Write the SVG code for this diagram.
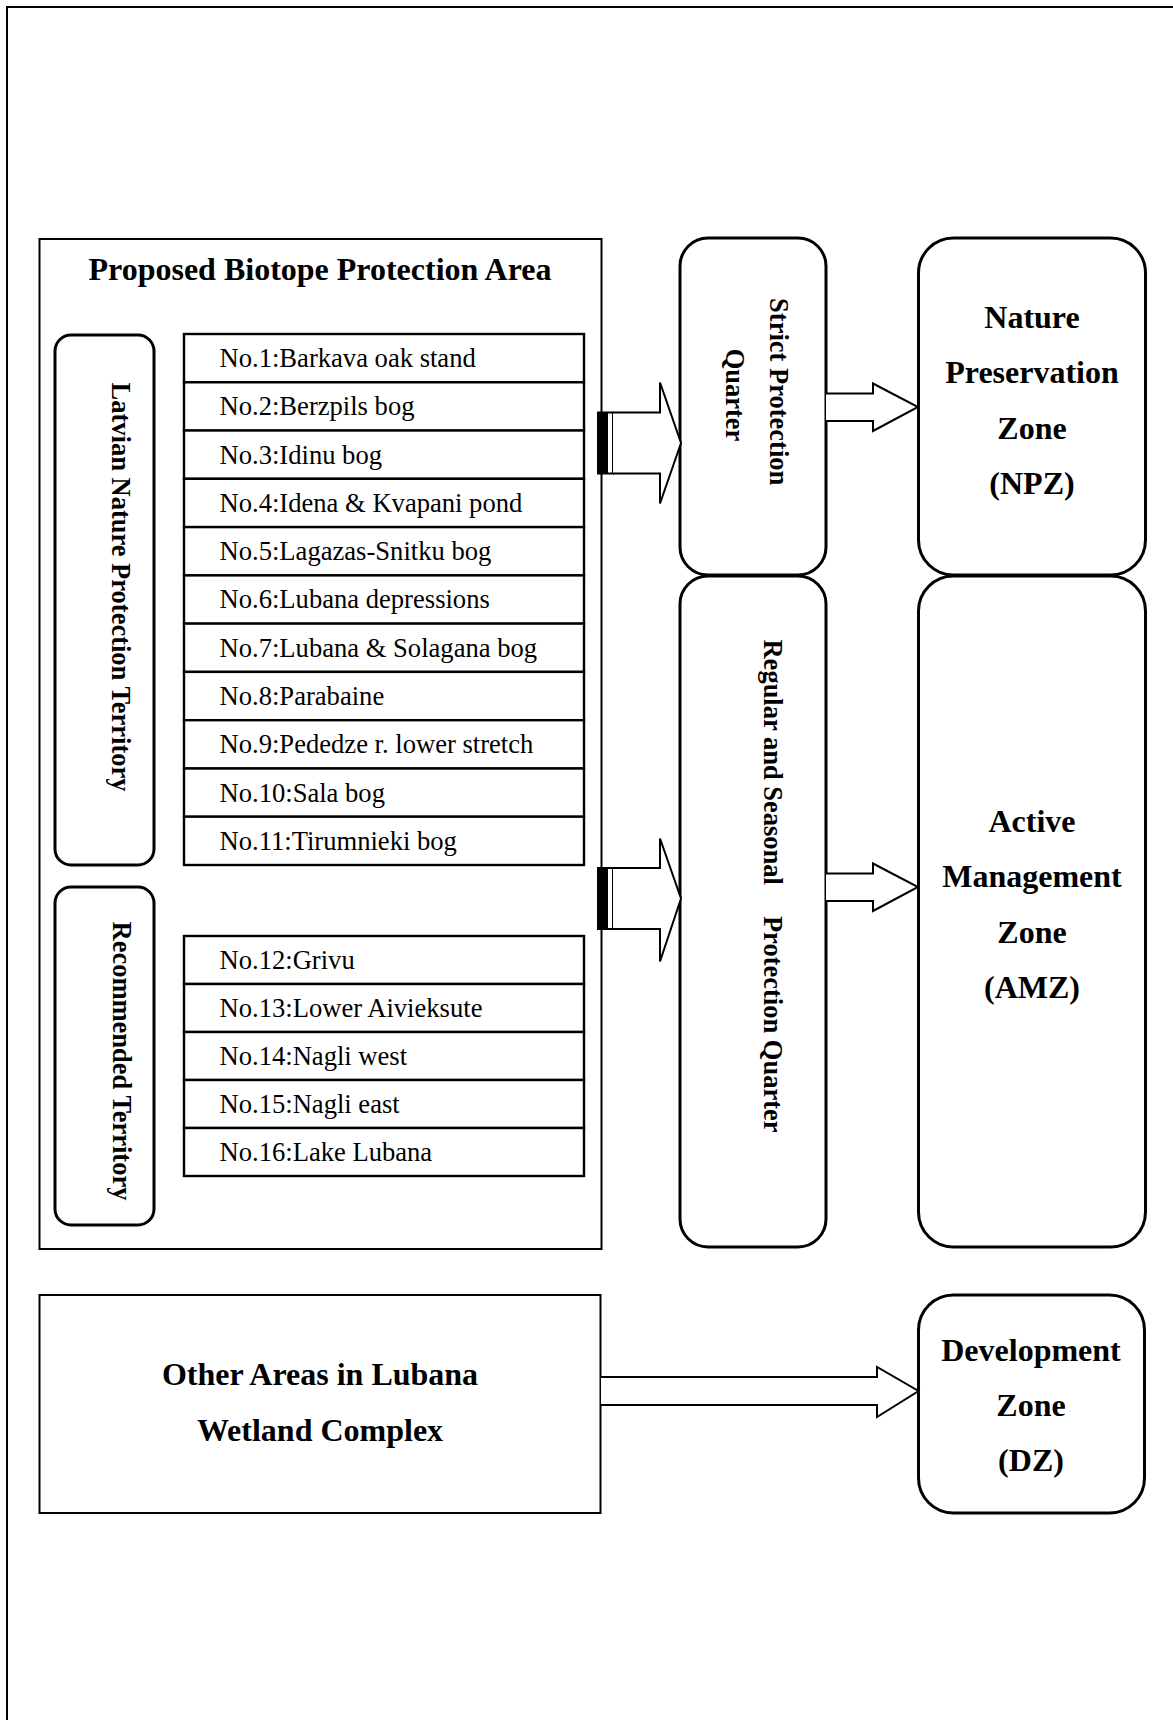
<svg xmlns="http://www.w3.org/2000/svg" width="1173" height="1720" viewBox="0 0 1173 1720">
  <style>
    .frame { fill: none; stroke: #000; stroke-width: 2; }
    .box { fill: #fff; stroke: #000; stroke-width: 2; }
    .row { fill: #fff; stroke: #000; stroke-width: 2.4; }
    .pill { fill: #fff; stroke: #000; stroke-width: 3; }
    .arrow { fill: #fff; stroke: #000; stroke-width: 2; stroke-linejoin: miter; }
    text { font-family: "Liberation Serif", "Times New Roman", serif; fill: #000; }
    .title { font-size: 32px; font-weight: bold; text-anchor: middle; }
    .item { font-size: 26.6px; }
    .vert { font-size: 26.5px; font-weight: bold; text-anchor: middle; }
    .zone { font-size: 32px; font-weight: bold; text-anchor: middle; }
  </style>

  <!-- page frame (top and left edges) -->
  <path class="frame" d="M7,1720 V7 H1173"/>

  <!-- biotope protection area container -->
  <g id="biotope-area">
    <rect class="box" x="39.5" y="239" width="562" height="1010"/>
    <text class="title" x="320" y="280">Proposed Biotope Protection Area</text>
  </g>

  <g id="latvian-territory">
    <rect class="pill" x="55" y="335" width="99" height="530" rx="16" ry="16"/>
    <text class="vert" transform="translate(112,587) rotate(90)">Latvian Nature Protection Territory</text>
  </g>

  <g id="recommended-territory">
    <rect class="pill" x="55" y="887" width="99" height="338" rx="16" ry="16"/>
    <text class="vert" transform="translate(113,1061) rotate(90)">Recommended Territory</text>
  </g>

  <!-- site list, Latvian territory -->
  <g id="sites-latvian">
    <g id="site-1"><rect class="row" x="184" y="334" width="400" height="48.3"/><text class="item" x="219.5" y="367">No.1:Barkava oak stand</text></g>
    <g id="site-2"><rect class="row" x="184" y="382.3" width="400" height="48.3"/><text class="item" x="219.5" y="415.3">No.2:Berzpils bog</text></g>
    <g id="site-3"><rect class="row" x="184" y="430.5" width="400" height="48.3"/><text class="item" x="219.5" y="463.5">No.3:Idinu bog</text></g>
    <g id="site-4"><rect class="row" x="184" y="478.8" width="400" height="48.3"/><text class="item" x="219.5" y="511.8">No.4:Idena &amp; Kvapani pond</text></g>
    <g id="site-5"><rect class="row" x="184" y="527.1" width="400" height="48.3"/><text class="item" x="219.5" y="560.1">No.5:Lagazas-Snitku bog</text></g>
    <g id="site-6"><rect class="row" x="184" y="575.4" width="400" height="48.3"/><text class="item" x="219.5" y="608.4">No.6:Lubana depressions</text></g>
    <g id="site-7"><rect class="row" x="184" y="623.6" width="400" height="48.3"/><text class="item" x="219.5" y="656.6">No.7:Lubana &amp; Solagana bog</text></g>
    <g id="site-8"><rect class="row" x="184" y="671.9" width="400" height="48.3"/><text class="item" x="219.5" y="704.9">No.8:Parabaine</text></g>
    <g id="site-9"><rect class="row" x="184" y="720.2" width="400" height="48.3"/><text class="item" x="219.5" y="753.2">No.9:Pededze r. lower stretch</text></g>
    <g id="site-10"><rect class="row" x="184" y="768.5" width="400" height="48.3"/><text class="item" x="219.5" y="801.5">No.10:Sala bog</text></g>
    <g id="site-11"><rect class="row" x="184" y="816.7" width="400" height="48.3"/><text class="item" x="219.5" y="849.7">No.11:Tirumnieki bog</text></g>
  </g>

  <!-- site list, recommended territory -->
  <g id="sites-recommended">
    <g id="site-12"><rect class="row" x="184" y="936" width="400" height="48"/><text class="item" x="219.5" y="969">No.12:Grivu</text></g>
    <g id="site-13"><rect class="row" x="184" y="984" width="400" height="48"/><text class="item" x="219.5" y="1017">No.13:Lower Aivieksute</text></g>
    <g id="site-14"><rect class="row" x="184" y="1032" width="400" height="48"/><text class="item" x="219.5" y="1065">No.14:Nagli west</text></g>
    <g id="site-15"><rect class="row" x="184" y="1080" width="400" height="48"/><text class="item" x="219.5" y="1113">No.15:Nagli east</text></g>
    <g id="site-16"><rect class="row" x="184" y="1128" width="400" height="48"/><text class="item" x="219.5" y="1161">No.16:Lake Lubana</text></g>
  </g>

  <!-- protection quarters -->
  <g id="strict-quarter">
    <rect class="pill" x="680" y="238" width="146" height="337" rx="28" ry="28"/>
    <text class="vert" transform="translate(769.5,395) rotate(90)">
      <tspan x="0" y="0">Strict Protection</tspan>
      <tspan x="0" y="44">Quarter</tspan>
    </text>
  </g>

  <g id="regular-quarter">
    <rect class="pill" x="680" y="576" width="146" height="671" rx="28" ry="28"/>
    <text class="vert" transform="translate(764,886) rotate(90)">Regular and Seasonal<tspan dx="31">Protection Quarter</tspan></text>
  </g>

  <!-- management zones -->
  <g id="npz">
    <rect class="pill" x="918.5" y="238" width="227" height="337" rx="35" ry="35"/>
    <text class="zone" x="1032" y="327.5">Nature</text>
    <text class="zone" x="1032" y="383">Preservation</text>
    <text class="zone" x="1032" y="438.5">Zone</text>
    <text class="zone" x="1032" y="494">(NPZ)</text>
  </g>

  <g id="amz">
    <rect class="pill" x="918.5" y="576" width="227" height="671" rx="35" ry="35"/>
    <text class="zone" x="1032" y="831.5">Active</text>
    <text class="zone" x="1032" y="887">Management</text>
    <text class="zone" x="1032" y="942.5">Zone</text>
    <text class="zone" x="1032" y="998">(AMZ)</text>
  </g>

  <g id="other-areas">
    <rect class="box" x="39.5" y="1295" width="561" height="218"/>
    <text class="title" x="320" y="1385">Other Areas in Lubana</text>
    <text class="title" x="320" y="1440.5">Wetland Complex</text>
  </g>

  <g id="dz">
    <rect class="pill" x="918.5" y="1295" width="226" height="218" rx="35" ry="35"/>
    <text class="zone" x="1031" y="1361">Development</text>
    <text class="zone" x="1031" y="1416">Zone</text>
    <text class="zone" x="1031" y="1471">(DZ)</text>
  </g>

  <!-- block arrows -->
  <g id="connectors">
    <!-- area to strict quarter -->
    <rect x="598" y="412.5" width="15" height="61" fill="#fff" stroke="#000" stroke-width="2"/>
    <rect x="598" y="412.5" width="10" height="61" fill="#000"/>
    <path class="arrow" d="M613,412.5 H660 V382.5 L681,443 L660,503.5 V473.5 H613"/>

    <!-- area to regular quarter -->
    <rect x="598" y="868" width="15" height="61" fill="#fff" stroke="#000" stroke-width="2"/>
    <rect x="598" y="868" width="10" height="61" fill="#000"/>
    <path class="arrow" d="M613,868 H660 V838.5 L681,898.5 L660,961.5 V929 H613"/>

    <!-- quarters to zones -->
    <path class="arrow" d="M826,393.5 H873 V383.5 L918,407 L873,431 V421 H826"/>
    <path class="arrow" d="M826,873.5 H873 V863.5 L918,887 L873,911 V901 H826"/>

    <!-- other areas to development zone -->
    <path class="arrow" d="M601,1377 H877 V1367 L918.5,1391 L877,1417 V1405 H601"/>
  </g>
</svg>
